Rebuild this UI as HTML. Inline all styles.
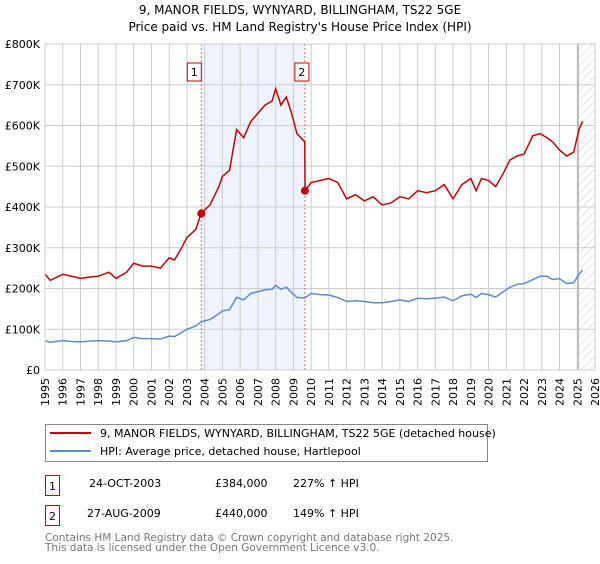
<!DOCTYPE html>
<html><head><meta charset="utf-8"><style>
body{margin:0;background:#fff;font-family:"DejaVu Sans","Liberation Sans",sans-serif;}
svg text{font-family:"DejaVu Sans","Liberation Sans",sans-serif;}
</style></head><body>
<svg width="600" height="560" xmlns="http://www.w3.org/2000/svg" id="chart">
<defs><pattern id="hatch" width="6" height="6" patternUnits="userSpaceOnUse" patternTransform="rotate(45)"><line x1="0" y1="0" x2="0" y2="6" stroke="#ccc" stroke-width="1"/></pattern></defs>
<text x="300" y="14" text-anchor="middle" font-size="12">9, MANOR FIELDS, WYNYARD, BILLINGHAM, TS22 5GE</text>
<text x="300" y="31" text-anchor="middle" font-size="12">Price paid vs. HM Land Registry's House Price Index (HPI)</text>
<g id="plot"></g>
<rect x="45.5" y="424.5" width="442" height="37" fill="#fff" stroke="#888"/>
<line x1="50" y1="433" x2="91" y2="433" stroke="#cc0000" stroke-width="2"/>
<text x="100" y="437" font-size="11">9, MANOR FIELDS, WYNYARD, BILLINGHAM, TS22 5GE (detached house)</text>
<line x1="50" y1="451" x2="91" y2="451" stroke="#5b8bd0" stroke-width="2"/>
<text x="100" y="455" font-size="11">HPI: Average price, detached house, Hartlepool</text>
<g>
<rect x="45.5" y="475.5" width="14" height="20" fill="#fff" stroke="#cc0000"/>
<text x="52.5" y="490" text-anchor="middle" font-size="11">1</text>
<text x="89" y="487" font-size="11">24-OCT-2003</text>
<text x="215" y="487" font-size="11">£384,000</text>
<text x="293" y="487" font-size="11">227% ↑ HPI</text></g>
<g>
<rect x="45.5" y="505.5" width="14" height="20" fill="#fff" stroke="#cc0000"/>
<text x="52.5" y="520" text-anchor="middle" font-size="11">2</text>
<text x="87" y="517" font-size="11">27-AUG-2009</text>
<text x="215" y="517" font-size="11">£440,000</text>
<text x="293" y="517" font-size="11">149% ↑ HPI</text></g>
<text x="45" y="541" font-size="10.5" fill="#777">Contains HM Land Registry data © Crown copyright and database right 2025.</text>
<text x="45" y="551" font-size="10.5" fill="#777">This data is licensed under the Open Government Licence v3.0.</text>
</svg>
<script>
const years=[1995,1995.3,1996,1996.5,1997,1997.5,1998,1998.6,1999,1999.6,2000,2000.5,2001,2001.5,2002,2002.3,2002.7,2003,2003.5,2003.8,2004.3,2004.8,2005,2005.4,2005.8,2006.2,2006.6,2007,2007.4,2007.8,2008,2008.3,2008.6,2008.9,2009.2,2009.64,2009.66,2010,2010.5,2011,2011.5,2012,2012.5,2013,2013.5,2014,2014.5,2015,2015.5,2016,2016.5,2017,2017.5,2018,2018.5,2019,2019.3,2019.6,2020,2020.4,2020.8,2021.2,2021.6,2022,2022.5,2022.9,2023.3,2023.6,2024,2024.4,2024.8,2025.1,2025.3];
const hpi=[72,68,72,70,69,71,72,71,69,72,80,77,77,76,83,82,92,100,108,118,124,138,145,148,178,172,188,192,197,198,208,198,203,190,178,177,177,188,185,184,178,168,170,168,165,165,168,172,168,176,175,176,179,170,182,186,178,188,185,179,191,203,210,212,222,230,230,222,224,212,214,235,245];
const price=[235,220,235,230,225,228,230,240,225,240,262,255,255,250,275,270,300,325,345,384,405,450,475,490,590,570,610,630,650,660,690,650,670,630,580,560,440,460,465,470,460,420,430,415,425,405,410,425,420,440,435,440,455,420,455,470,440,470,465,450,480,515,525,530,575,580,570,560,540,525,535,590,610];
const sales=[[2003.81,384],[2009.65,440]];
const yTicks=[0,100,200,300,400,500,600,700,800];
const yLabels=["£0","£100K","£200K","£300K","£400K","£500K","£600K","£700K","£800K"];
const xTicks=[1995,1996,1997,1998,1999,2000,2001,2002,2003,2004,2005,2006,2007,2008,2009,2010,2011,2012,2013,2014,2015,2016,2017,2018,2019,2020,2021,2022,2023,2024,2025,2026];
const X=v=>45+(v-1995)*(550/31), Y=v=>370-v*(326/800);
const g=document.getElementById('plot'),NS='http://www.w3.org/2000/svg';
function mk(t,a){const e=document.createElementNS(NS,t);for(const k in a)e.setAttribute(k,a[k]);g.appendChild(e);return e;}
let e=mk('rect',{x:X(sales[0][0]),y:44,width:X(sales[1][0])-X(sales[0][0]),height:326,fill:'#eef3fc'});


e=mk('rect',{x:X(2025.05),y:44,width:595-X(2025.05),height:326,fill:'url(#hatch)'});


xTicks.forEach(t=>{e=mk('line',{x1:X(t),x2:X(t),y1:44,y2:370,stroke:'#ccc'});


e=mk('text',{x:0,y:0,'font-size':11,'text-anchor':'end',transform:`translate(${X(t)+4},378) rotate(-90)`});e.textContent=t;

});
yTicks.forEach((t,i)=>{e=mk('line',{x1:45,x2:595,y1:Y(t),y2:Y(t),stroke:'#ccc'});


e=mk('text',{x:40,y:Y(t)+4,'font-size':11,'text-anchor':'end'});e.textContent=yLabels[i];

});
e=mk('line',{x1:X(2025.05),x2:X(2025.05),y1:44,y2:370,stroke:'#999'});


sales.forEach((s,i)=>{e=mk('line',{x1:X(s[0]),x2:X(s[0]),y1:44,y2:370,stroke:'#e66','stroke-dasharray':'2,2'});


const bx=X(s[0])-(i==0?11:-1)-(i==0?0:12);
e=mk('rect',{x:X(s[0])-12+(i==0?-2:2),y:63,width:14,height:18,fill:'#fff',stroke:'#cc0000'});


e=mk('text',{x:X(s[0])-5+(i==0?-2:2),y:76,'font-size':11,'text-anchor':'middle'});e.textContent=i+1;

});
e=mk('polyline',{points:years.map((y,i)=>X(y)+','+Y(hpi[i])).join(' '),fill:'none',stroke:'#5b8bd0','stroke-width':1.5});


e=mk('polyline',{points:years.map((y,i)=>X(y)+','+Y(price[i])).join(' '),fill:'none',stroke:'#cc0000','stroke-width':1.5});


sales.forEach(s=>{e=mk('circle',{cx:X(s[0]),cy:Y(s[1]),r:4,fill:'#cc0000'});

});
e=mk('rect',{x:45,y:44,width:550,height:326,fill:'none',stroke:'#ccc'});


</script>
</body></html>
